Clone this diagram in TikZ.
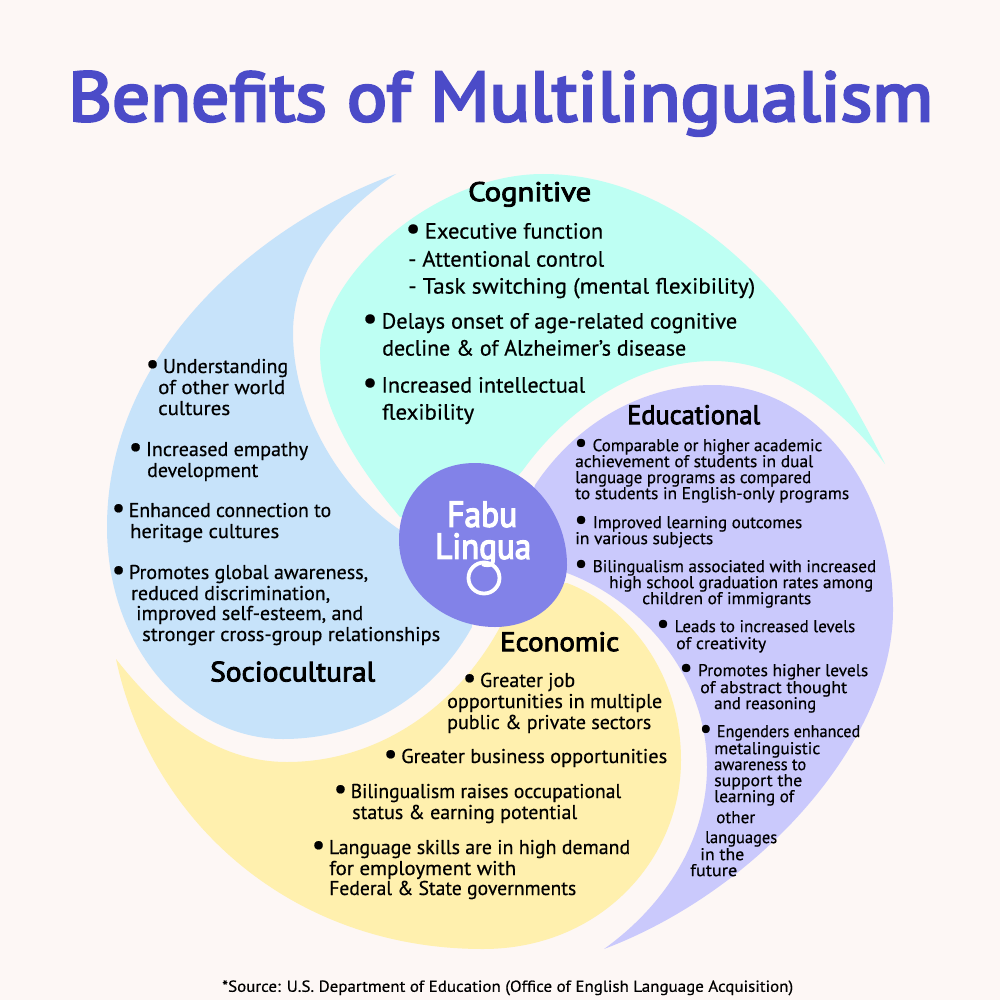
\documentclass[tikz,border=0pt]{standalone}
\usepackage{fontspec}
\usepackage{graphicx}
\setmainfont{PT Sans}[FakeBold=0.5]
\newfontfamily\hdf{PT Sans}[FakeBold=3]
\newfontfamily\titf{PT Sans}[FakeBold=3.8]
\definecolor{bgc}{HTML}{FDF7F5}
\definecolor{mint}{HTML}{BEFFF3}
\definecolor{skyc}{HTML}{C7E3FA}
\definecolor{yelc}{HTML}{FFF0AE}
\definecolor{lavc}{HTML}{CAC9FC}
\definecolor{hubc}{HTML}{8282E8}
\definecolor{titc}{HTML}{4B4BC8}
\newcount\linecnt
\newbox\tlbox
\newcommand\bul{\hspace{-0.12em}\smash{\raisebox{-0.03em}{\scalebox{1.5}{\textbullet}}}\hspace{0.18em}}
\newcommand\bulb{\hspace{-0.16em}\smash{\raisebox{-0.05em}{\scalebox{1.7}{\textbullet}}}\hspace{0.3em}}
\newcommand\tline[6][black]{%
  \global\advance\linecnt by 1
  \pgfinterruptpicture
  \global\setbox\tlbox=\hbox{\fontsize{#2}{#2}\selectfont #6}%
  \endpgfinterruptpicture
  \edef\tlw{\the\wd\tlbox}%
  \pgfmathsetmacro\tlscale{(#4-#3)/\tlw}%
  \node[anchor=base west,inner sep=0pt,text=#1] (t\the\linecnt) at (#3,{#5+0.3*#2}) {\scalebox{\tlscale}[1]{\copy\tlbox}};%
}
\begin{document}
\begin{tikzpicture}[x=1pt,y=-1pt]
\fill[bgc] (0,0) rectangle (1000,1000);
\useasboundingbox (0,0) rectangle (1000,1000);
% Cognitive
\fill[mint] (885,464) .. controls (800,290) and (680,174) .. (543,174)
  .. controls (430,174) and (320,280) .. (320,353)
  .. controls (320,410) and (360,470) .. (400,517)
  -- (480,520) -- (523,470)
  .. controls (570,405) and (640,361) .. (713,361)
  .. controls (780,361) and (840,405) .. (885,464) -- cycle;
% Sociocultural
\fill[skyc] (396,174) .. controls (262,222) and (107,350) .. (107,527)
  .. controls (107,650) and (190,739) .. (283,739)
  .. controls (375,739) and (440,685) .. (472,627)
  -- (470,560) -- (400,530)
  .. controls (340,490) and (293,410) .. (293,333)
  .. controls (293,270) and (335,215) .. (396,174) -- cycle;
% Economic
\fill[yelc] (116,659) .. controls (150,820) and (290,949) .. (483,949)
  .. controls (600,949) and (681,860) .. (681,760)
  .. controls (681,670) and (625,605) .. (567,583)
  -- (510,590) -- (500,627)
  .. controls (455,710) and (375,762) .. (287,762)
  .. controls (215,762) and (160,715) .. (116,659) -- cycle;
% Educational
\fill[lavc] (604,949) .. controls (760,890) and (893,740) .. (893,610)
  .. controls (893,480) and (810,385) .. (713,385)
  .. controls (640,385) and (575,425) .. (535,485)
  -- (520,540) -- (567,573)
  .. controls (635,598) and (707,670) .. (707,767)
  .. controls (707,840) and (665,905) .. (604,949) -- cycle;
% Hub
\fill[hubc] (399,540) .. controls (399,495) and (430,463) .. (475,463)
  .. controls (525,463) and (567,510) .. (567,565)
  .. controls (567,600) and (535,627) .. (495,627)
  .. controls (445,627) and (399,590) .. (399,540) -- cycle;
\tline[white]{36}{447}{517}{516}{\titf Fabu}
\tline[white]{36}{435}{531}{548}{\titf Lingua}
\node[draw=white,line width=3.8pt,circle,minimum size=31pt,inner sep=0pt] (ring) at (484,578) {};
% Title
\tline[titc]{70}{68}{933}{100}{\titf Benefits of Multilingualism}
\tline{27}{468}{591}{193}{\hdf Cognitive}
\tline{22}{408}{603}{232}{\bul Executive function}
\tline{22}{408}{604}{260}{- Attentional control}
\tline{22}{408}{755}{287}{- Task switching (mental flexibility)}
\tline{22}{365}{737}{322}{\bul Delays onset of age-related cognitive}
\tline{22}{382}{686}{349}{decline \& of Alzheimer’s disease}
\tline{22}{365}{585}{386}{\bul Increased intellectual}
\tline{22}{382}{474}{413}{flexibility}
% Educational
\tline{27}{627}{760}{416}{\hdf Educational}
\tline{17}{577}{822}{446}{\bulb Comparable or higher academic}
\tline{17}{575}{813}{462}{achievement of students in dual}
\tline{17}{575}{811}{478}{language programs as compared}
\tline{17}{575}{849}{494}{to students in English-only programs}
\tline{17}{577}{802}{523}{\bulb Improved learning outcomes}
\tline{17}{575}{713}{539}{in various subjects}
\tline{17}{577}{876}{567}{\bulb Bilingualism associated with increased}
\tline{17}{609}{873}{583}{high school graduation rates among}
\tline{17}{642}{811}{599}{children of immigrants}
\tline{17}{659}{855}{627}{\bulb Leads to increased levels}
\tline{17}{676}{766}{644}{of creativity}
\tline{17}{682}{868}{671}{\bulb Promotes higher levels}
\tline{17}{700}{847}{688}{of abstract thought}
\tline{17}{714}{816}{704}{and reasoning}
\tline{17}{702}{860}{732}{\bulb Engenders enhanced}
\tline{17}{714}{820}{749}{metalinguistic}
\tline{17}{714}{806}{765}{awareness to}
\tline{17}{714}{802}{781}{support the}
\tline{17}{714}{794}{797}{learning of}
\tline{17}{716}{755}{818}{other}
\tline{17}{705}{777}{838}{languages}
\tline{17}{700}{744}{855}{in the}
\tline{17}{690}{737}{871}{future}
% Sociocultural
\tline{20}{148}{288}{367}{\bul Understanding}
\tline{20}{158}{285}{388}{of other world}
\tline{20}{158}{230}{409}{cultures}
\tline{20}{131}{308}{450}{\bul Increased empathy}
\tline{20}{147}{258}{471}{development}
\tline{20}{114}{331}{511}{\bul Enhanced connection to}
\tline{20}{130}{279}{532}{heritage cultures}
\tline{20}{114}{368}{573}{\bul Promotes global awareness,}
\tline{20}{131}{330}{594}{reduced discrimination,}
\tline{20}{136}{363}{614}{improved self-esteem, and}
\tline{20}{142}{440}{635}{stronger cross-group relationships}
\tline{28}{210}{375}{673}{\hdf Sociocultural}
% Economic
\tline{27}{500}{619}{643}{\hdf Economic}
\tline{20}{465}{575}{681}{\bul Greater job}
\tline{20}{447}{662}{702}{opportunities in multiple}
\tline{20}{447}{651}{723}{public \& private sectors}
\tline{20}{386}{667}{757}{\bul Greater business opportunities}
\tline{20}{336}{621}{792}{\bul Bilingualism raises occupational}
\tline{20}{352}{577}{813}{status \& earning potential}
\tline{20}{314}{630}{848}{\bul Language skills are in high demand}
\tline{20}{329}{516}{869}{for employment with}
\tline{20}{329}{576}{889}{Federal \& State governments}
% Source
\tline{16}{222}{793}{987}{*Source: U.S. Department of Education (Office of English Language Acquisition)}
\end{tikzpicture}
\end{document}
